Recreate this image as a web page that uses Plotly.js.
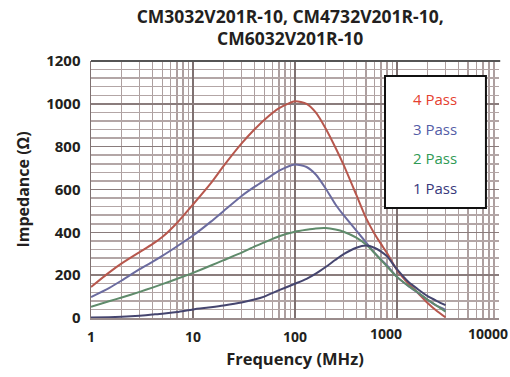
<!DOCTYPE html>
<html>
<head>
<meta charset="utf-8">
<script src="https://cdn.plot.ly/plotly-3.0.1.min.js"></script>
<style>html,body{margin:0;padding:0;background:#fff;}#chart{width:510px;height:377px;}</style>
</head>
<body>
<div id="chart"></div>
<script>
// Frequency (MHz)
const freq  = [1, 1.5, 2, 3, 4, 5, 7, 10, 15, 20, 30, 40, 50, 70, 100, 130, 160, 200, 250, 300, 400, 500, 600, 700, 800, 1000, 1300, 1600, 2000, 2500, 3000];
// Impedance (Ohm)
const pass4 = [145, 212, 255, 308, 345, 378, 445, 530, 630, 710, 815, 880, 925, 980, 1012, 1000, 960, 885, 795, 715, 575, 465, 395, 345, 303, 225, 160, 118, 70, 30, 3];
const pass3 = [98, 140, 175, 228, 262, 290, 335, 385, 450, 500, 570, 612, 642, 688, 717, 705, 670, 605, 530, 480, 408, 352, 305, 272, 245, 192, 148, 118, 85, 55, 38];
const pass2 = [52, 78, 96, 122, 142, 158, 183, 211, 245, 270, 305, 333, 353, 382, 403, 412, 418, 420, 413, 403, 375, 342, 305, 270, 240, 192, 150, 120, 85, 55, 30];
const pass1 = [2, 4, 6, 11, 16, 20, 28, 40, 50, 58, 72, 86, 100, 130, 160, 183, 207, 238, 272, 298, 328, 338, 328, 310, 288, 228, 168, 135, 102, 78, 60];
const seriesNames = ['4 Pass', '3 Pass', '2 Pass', '1 Pass'];
const xTickVals = [1, 10, 100, 1000, 10000];
const xTickText = ['1', '10', '100', '1000', '10000'];
const yTickVals = [0, 200, 400, 600, 800, 1000, 1200];

const seriesData = [pass4, pass3, pass2, pass1];
const lineColors = ['#b7574d', '#6b6b9f', '#5f8b6b', '#45456f'];
const textColors = ['#e5402f', '#535ca6', '#2f9a55', '#38387b'];

const traces = seriesData.map((v, i) => ({
  x: freq, y: v, type: 'scatter', mode: 'lines', name: seriesNames[i],
  line: {color: lineColors[i], width: 2, shape: 'spline', smoothing: 0.6},
  showlegend: false, hoverinfo: 'skip'
}));
// empty trace that only carries the second x axis (labels 1000 / 10000 sit left of their lines)
traces.push({x: xTickVals.slice(3), y: [null, null], xaxis: 'x2', type: 'scatter', mode: 'lines',
  showlegend: false, hoverinfo: 'skip'});

// minor log gridline positions 2..9 per decade
const minorVals = [];
for (let k = 0; k < 4; k++) for (let d = 2; d <= 9; d++) minorVals.push(d * Math.pow(10, k));

const fontFam = '"Open Sans", "DejaVu Sans", sans-serif';
const dark = '#231f20';
const legY = [0.852, 0.735, 0.623, 0.506];
const xTickFont = {family: fontFam, size: 14, weight: 700, color: dark};

const layout = {
  width: 510, height: 377,
  margin: {l: 91, r: 11, t: 61, b: 59, pad: 0},
  paper_bgcolor: '#ffffff', plot_bgcolor: '#ffffff',
  font: {family: fontFam, color: dark},
  title: {
    text: 'CM3032V201R-10, CM4732V201R-10,<br>CM6032V201R-10',
    font: {family: fontFam, size: 17.5, weight: 700, color: dark},
    x: 0.569, xanchor: 'center', xref: 'container',
    y: 0.94, yanchor: 'top', yref: 'container'
  },
  xaxis: {
    type: 'log', range: [0, 4.001],
    tickmode: 'array', tickvals: xTickVals,
    ticktext: xTickText.slice(0, 3).concat(['', '']),
    tickfont: xTickFont,
    ticks: '', ticklabelstandoff: 6,
    showgrid: true, gridcolor: '#7f7171', gridwidth: 1.5,
    minor: {tickmode: 'array', tickvals: minorVals, showgrid: true, gridcolor: '#ad9f9f', gridwidth: 1.5, ticks: ''},
    showline: true, linecolor: '#9a8c8c', linewidth: 1.5,
    zeroline: false,
    title: {text: 'Frequency (MHz)', font: {family: fontFam, size: 16.5, weight: 700, color: dark}, standoff: 8}
  },
  xaxis2: {
    type: 'log', range: [0, 4.001], overlaying: 'x', anchor: 'y', side: 'bottom',
    tickmode: 'array', tickvals: xTickVals.slice(3), ticktext: xTickText.slice(3),
    tickfont: xTickFont,
    ticklabelshift: -11, ticklabeloverflow: 'allow',
    ticks: '', ticklabelstandoff: 6,
    showgrid: false, showline: false, zeroline: false
  },
  yaxis: {
    range: [0, 1200],
    tickmode: 'array', tickvals: yTickVals,
    tickfont: {family: fontFam, size: 15, weight: 700, color: dark},
    ticks: '', ticklabelstandoff: 6,
    showgrid: true, gridcolor: '#8a7c7c', gridwidth: 1.5,
    minor: {dtick: 40, showgrid: true, gridcolor: '#b3a6a6', gridwidth: 1.5, ticks: ''},
    showline: true, linecolor: '#7f7171', linewidth: 1.5,
    zeroline: false,
    title: {text: 'Impedance (Ω)', font: {family: fontFam, size: 16, weight: 700, color: dark}, standoff: 12}
  },
  shapes: [
    {type: 'line', xref: 'paper', yref: 'paper', x0: 0, x1: 1.003, y0: 1, y1: 1, line: {color: '#555555', width: 2}},
    {type: 'rect', xref: 'paper', yref: 'paper', x0: 0.7206, x1: 0.968, y0: 0.428, y1: 0.9416,
     fillcolor: '#ffffff', line: {color: '#111111', width: 2}, layer: 'above'}
  ],
  annotations: seriesNames.map((n, i) => ({
    text: n, xref: 'paper', yref: 'paper', x: 0.843, y: legY[i],
    xanchor: 'center', yanchor: 'middle', showarrow: false,
    font: {family: fontFam, size: 15, color: textColors[i]}
  }))
};

Plotly.newPlot('chart', traces, layout, {displayModeBar: false, staticPlot: true});
</script>
</body>
</html>
